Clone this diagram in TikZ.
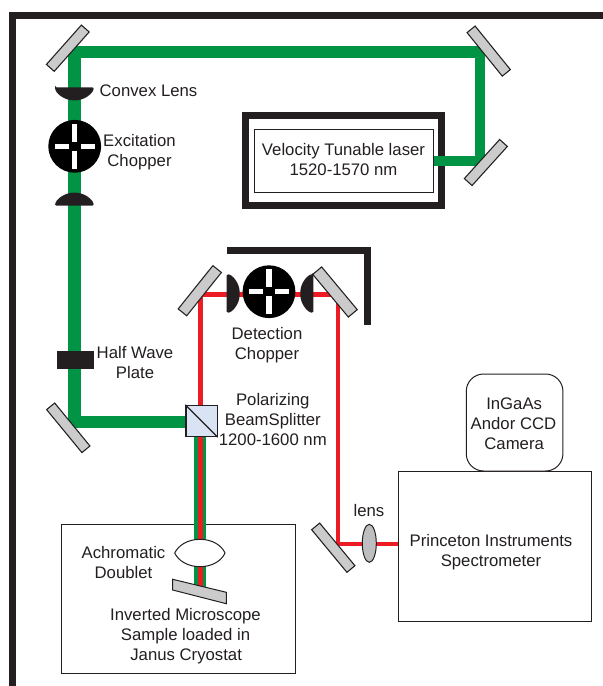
\documentclass[tikz,border=0pt]{standalone}
\usepackage{fontspec}
\usetikzlibrary{shapes.geometric}
\setmainfont{Liberation Sans}
\definecolor{ink}{HTML}{231F20}
\definecolor{beamgreen}{HTML}{009444}
\definecolor{beamred}{HTML}{ED1C24}
\definecolor{mirrorgray}{HTML}{CCCBCB}
\definecolor{cubeblue}{HTML}{D9E3F3}
\definecolor{lensgray}{HTML}{BCBEC0}
\tikzset{
  x=0.75pt,y=-0.75pt,
  lbl/.style={font=\fontsize{12.55}{15}\selectfont,text=ink,align=center,inner sep=0pt},
  thinbox/.style={draw=ink,line width=0.75pt,fill=white,inner sep=0pt},
  mirror/.style={draw=ink,line width=0.8pt,fill=mirrorgray,rectangle,inner sep=0pt,minimum height=7.8pt,minimum width=41pt,line join=miter},
  chopperdisc/.style={circle,fill=black,inner sep=0pt,minimum size=39.6pt},
  gbeam/.style={draw=beamgreen,line join=miter},
  rbeam/.style={draw=beamred,line join=miter},
  heavy/.style={draw=ink,line width=5.1pt,line join=miter},
  planolens/.pic={\fill[ink,rounded corners=1pt] (-19.3,0) -- (19.3,0) .. controls (19,6) and (10,13) .. (0,13) .. controls (-10,13) and (-19,6) .. (-19.3,0) -- cycle;},
  slots/.pic={
    \fill[white] (-2.7,-4.6) rectangle (2.7,-22.6);
    \fill[white] (-2.7,4.6) rectangle (2.7,22.6);
    \fill[white] (-5.8,-2.5) rectangle (-20,2.5);
    \fill[white] (5.8,-2.5) rectangle (20,2.5);
  },
}
\begin{document}
\begin{tikzpicture}
\useasboundingbox (0,0) rectangle (603,686);
\fill[white] (0,0) rectangle (603,686);
% outer frame
\coordinate (fa) at (12.7,686);
\coordinate (fb) at (12.7,15.5);
\coordinate (fc) at (603,15.5);
\draw[heavy] (fa) -- (fb) -- (fc);
% anchor points of the beams
\coordinate (g1) at (74.5,52);
\coordinate (g2) at (480,52);
\coordinate (g3) at (480,161);
\coordinate (g4) at (74.5,422);
\coordinate (r1) at (200.3,294.5);
\coordinate (r2) at (338,294.5);
\coordinate (r3) at (338,544);
\coordinate (s1) at (200.3,587);
% boxes
\node[draw=ink,line width=5pt,inner sep=0pt,minimum width=147pt,minimum height=67.3pt] (laserframe) at (343.65,160.5) {};
\node[thinbox,minimum width=134.25pt,minimum height=46.75pt] (laserbox) at (343.5,160.9) {};
\node[thinbox,minimum width=175pt,minimum height=111.75pt] (micbox) at (178.5,599.2) {};
\node[thinbox,minimum width=144.75pt,minimum height=112.5pt] (spec) at (495.2,546) {};
\node[thinbox,rounded corners=13pt,minimum width=72.5pt,minimum height=72.75pt] (cam) at (514.6,422.5) {};
% beams
\draw[gbeam,line width=7.4pt] (laserbox.east |- g3) -- (g3);
\draw[gbeam,line width=7.4pt] (g3) -- (g2) -- +(0,-6);
\draw[gbeam,line width=9.4pt] (g2) -- (g1) -- (g4) -- (201,422);
\draw[gbeam,line width=9.2pt] (200.3,437) -- (s1);
\draw[rbeam,line width=3.4pt] (200.3,437) -- (s1);
\draw[rbeam,line width=3.3pt] (200.3,405) -- (r1) -- (r2) -- (r3) -- (spec.west |- r3);
% mirrors
\node[mirror,minimum width=39.5pt,rotate=48.4] (m1) at (67.8,48.2) {};
\node[mirror,minimum width=42pt,rotate=-51] (m2) at (488.7,51.1) {};
\node[mirror,minimum width=39.5pt,rotate=47.9] (m3) at (485.85,162.5) {};
\node[mirror,minimum width=41.7pt,rotate=-50.6] (m4) at (68.3,427.8) {};
\node[mirror,minimum width=41.6pt,minimum height=8.2pt,rotate=51.3] (m5) at (199.8,290.7) {};
\node[mirror,minimum width=41.7pt,minimum height=8.7pt,rotate=-50.2] (m6) at (335,292) {};
\node[mirror,minimum width=41.5pt,rotate=-50.4] (m7) at (333.3,547.7) {};
% lenses
\pic at (74.4,87.3) {planolens};
\pic[yscale=-1] at (74.4,205.7) {planolens};
\pic[rotate=90] at (226.7,293.5) {planolens};
\pic[rotate=-90] at (313.3,293.5) {planolens};
% choppers
\node[chopperdisc] (c1) at (74.7,146.3) {};
\pic at (c1) {slots};
\node[chopperdisc] (c2) at (269,291.7) {};
\pic at (c2) {slots};
% half wave plate
\node[fill=ink,inner sep=0pt,minimum width=27.75pt,minimum height=13.5pt] (hwp) at (75.5,360) {};
% beam splitter cube
\node[draw=ink,fill=cubeblue,line width=0.9pt,inner sep=0pt,minimum size=23.4pt] (cube) at (201.5,421) {};
\draw[ink,line width=0.9pt] (cube.north west) -- (cube.south east);
% doublet
\coordinate (dl) at (174.7,553);
\coordinate (dr) at (225,553);
\draw[ink,line width=0.75pt,fill=white] (dl) .. controls (178,546) and (187,539.3) .. (200,539.3) .. controls (213,539.3) and (222,546) .. (dr) .. controls (222,560) and (213,566.7) .. (200,566.7) .. controls (187,566.7) and (178,560) .. (dl) -- cycle;
% sample
\draw[ink,line width=0.75pt,fill=mirrorgray] (172.7,579.3) -- (226.3,592.3) -- (226.3,603.7) -- (172.7,590) -- cycle;
% relay lens
\node[draw=ink,line width=0.75pt,fill=lensgray,ellipse,inner sep=0pt,minimum width=10.5pt,minimum height=28.5pt] (rl) at (369.3,543.3) {};
% labels
\node[lbl] (t1) at (148.5,90.7) {Convex Lens};
\node[lbl] (t2) at (139.5,152) {Excitation\\Chopper};
\node[lbl] (t3) at (267,345) {Detection\\Chopper};
\node[lbl] (t4) at (135,363) {Half Wave\\Plate};
\node[lbl] (t5) at (272.8,419.5) {Polarizing\\BeamSplitter\\1200-1600 nm};
\node[lbl] (t6) at (123.5,562.5) {Achromatic\\Doublet};
\node[lbl] (t7) at (185.5,636.5) {Inverted Microscope\\Sample loaded in\\\hspace*{1pt}Janus Cryostat};
\node[lbl] (t8) at (369,511) {lens};
\node[lbl] (t9) at (513.5,423.7) {\hspace*{1pt}InGaAs\\Andor CCD\\\hspace*{1pt}Camera};
\node[lbl] (t10) at (491,552) {Princeton Instruments\\Spectrometer};
\node[lbl] (t11) at (343.5,160) {Velocity Tunable laser\\1520-1570 nm};
% bracket
\coordinate (b1) at (227.3,250.6);
\coordinate (b2) at (367.2,250.6);
\coordinate (b3) at (367.2,325);
\draw[heavy] (b1) -- (b2) -- (b3);
\end{tikzpicture}
\end{document}
